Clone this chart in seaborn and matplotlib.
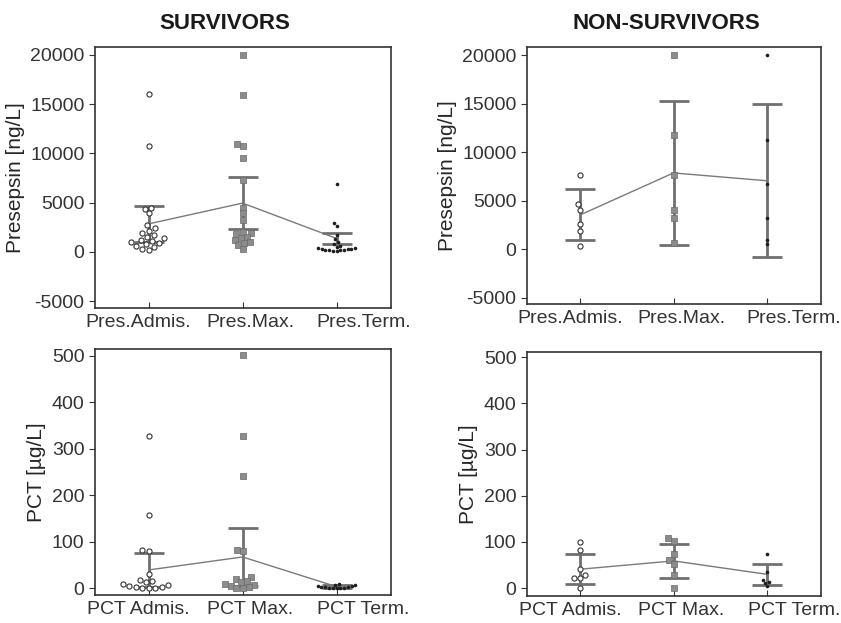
import seaborn as sns
import pandas as pd
import matplotlib.pyplot as plt
import matplotlib.transforms as mtransforms
import numpy as np

# categories / tick labels
pres_cats = ["Pres.Admis.", "Pres.Max.", "Pres.Term."]
pct_cats = ["PCT Admis.", "PCT Max.", "PCT Term."]

# survivors, presepsin [ng/L]
s_pres_admis = [16000, 10700, 4500, 4400, 3900, 2700, 2400, 2100, 1900, 1700, 1500,
                1400, 1200, 1100, 1000, 900, 800, 600, 500, 300, 200]
s_pres_max = [20000, 15900, 10900, 10700, 9500, 7300, 4500, 3900, 3200, 2000, 1900,
              1800, 1500, 1400, 1200, 1000, 900, 700, 300]
s_pres_term = [6900, 2900, 2600, 1700, 1300, 1000, 800, 600, 500, 400, 400, 300,
               300, 300, 200, 200, 200, 200, 100, 100]
s_pres_mean = [2840, 4950, 1360]
s_pres_sd = [1820, 2670, 600]

# non-survivors, presepsin [ng/L]
ns_pres_admis = [7700, 4700, 4100, 2600, 1900, 400]
ns_pres_max = [20000, 11800, 7700, 4100, 3200, 700]
ns_pres_term = [20000, 11300, 6700, 3200, 1000, 600]
ns_pres_mean = [3550, 7870, 7065]
ns_pres_sd = [2620, 7390, 7855]

# survivors, PCT [µg/L]
s_pct_admis = [328, 158, 81, 80, 30, 17, 15, 12, 9, 7, 5, 3, 2, 1, 0, 0]
s_pct_max = [502, 328, 242, 82, 80, 24, 20, 16, 12, 9, 6, 4, 2, 1, 0]
s_pct_term = [8, 7, 6, 5, 4, 3, 2, 2, 1, 1, 0, 0, 0]
s_pct_mean = [39, 67, 3]
s_pct_sd = [36, 62, 3]

# non-survivors, PCT [µg/L]
ns_pct_admis = [99, 83, 41, 29, 22, 21, 0]
ns_pct_max = [108, 101, 74, 61, 52, 29, 0]
ns_pct_term = [74, 36, 17, 14, 11, 4]
ns_pct_mean = [41, 59, 30]
ns_pct_sd = [33, 36, 23]

sns.set_style("ticks")
plt.rcParams['font.family'] = ['Liberation Sans', 'DejaVu Sans']
plt.rcParams['axes.unicode_minus'] = False
plt.rcParams['axes.edgecolor'] = '#333333'
plt.rcParams['text.color'] = '#1a1a1a'
plt.rcParams['xtick.color'] = '#333333'
plt.rcParams['ytick.color'] = '#333333'

fig = plt.figure(figsize=(8.41, 6.23), dpi=100)
ax_tl = fig.add_axes([0.113, 0.5056, 0.352, 0.419])
ax_tr = fig.add_axes([0.6266, 0.512, 0.3496, 0.4125])
ax_bl = fig.add_axes([0.113, 0.0449, 0.352, 0.395])
ax_br = fig.add_axes([0.6266, 0.0433, 0.3496, 0.3917])

styles = [
    dict(marker='o', color='white', edgecolor='#333333', linewidth=0.8, size=3.7),
    dict(marker='s', color='#8c8c8c', edgecolor='#6a6a6a', linewidth=0.5, size=3.7),
    dict(marker='o', color='#1e1e1e', edgecolor='#1e1e1e', linewidth=0, size=2.6),
]
label_shift = [-10, 8, 27]  # px, labels sit off-centre in the original


def panel(ax, cats, groups, mean, sd, ylim, yticks, ylabel):
    for cat, vals, st in zip(cats, groups, styles):
        df = pd.DataFrame({"cat": cat, "val": vals})
        sns.swarmplot(data=df, x="cat", y="val", order=cats, ax=ax, zorder=3, **st)
    xs = np.arange(len(cats))
    ax.errorbar(xs, mean, yerr=sd, fmt='none', ecolor='#707070', elinewidth=2,
                capsize=11, capthick=2, zorder=2)
    ax.plot(xs, mean, color='#7a7a7a', lw=1, zorder=2)
    ax.set_xlim(-0.57, 2.58)
    ax.set_ylim(*ylim)
    ax.set_yticks(yticks)
    ax.set_xlabel("")
    ax.set_ylabel(ylabel, fontsize=15)
    ax.tick_params(axis='x', direction='in', length=4, labelsize=14, pad=4)
    ax.tick_params(axis='y', direction='out', length=4, labelsize=14)
    for lab, dx in zip(ax.get_xticklabels(), label_shift):
        off = mtransforms.ScaledTranslation(dx / 100, 0, fig.dpi_scale_trans)
        lab.set_transform(lab.get_transform() + off)
    for s in ax.spines.values():
        s.set_visible(True)
        s.set_linewidth(1.2)


panel(ax_tl, pres_cats, [s_pres_admis, s_pres_max, s_pres_term], s_pres_mean, s_pres_sd,
      (-5700, 20800), [-5000, 0, 5000, 10000, 15000, 20000], "Presepsin [ng/L]")
panel(ax_tr, pres_cats, [ns_pres_admis, ns_pres_max, ns_pres_term], ns_pres_mean, ns_pres_sd,
      (-5620, 20825), [-5000, 0, 5000, 10000, 15000, 20000], "Presepsin [ng/L]")
panel(ax_bl, pct_cats, [s_pct_admis, s_pct_max, s_pct_term], s_pct_mean, s_pct_sd,
      (-15, 515), [0, 100, 200, 300, 400, 500], "PCT [µg/L]")
panel(ax_br, pct_cats, [ns_pct_admis, ns_pct_max, ns_pct_term], ns_pct_mean, ns_pct_sd,
      (-17, 511), [0, 100, 200, 300, 400, 500], "PCT [µg/L]")

fig.text(0.2675, 0.962, "SURVIVORS", ha='center', va='center', fontsize=16, fontweight='bold')
fig.text(0.792, 0.962, "NON-SURVIVORS", ha='center', va='center', fontsize=16, fontweight='bold')

fig.savefig("out.png", dpi=100)
